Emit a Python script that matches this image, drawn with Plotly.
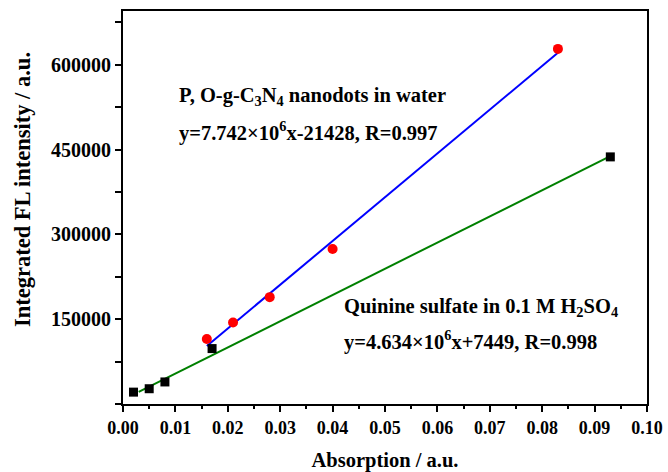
import plotly.graph_objects as go

# Data
pog_x = [0.016, 0.021, 0.028, 0.040, 0.083]
pog_y = [115000, 144000, 189000, 274000, 628000]

qs_x = [0.002, 0.005, 0.008, 0.017, 0.093]
qs_y = [21000, 27000, 39000, 98000, 437000]

# Fitted-line endpoints (as drawn)
pog_fit_x = [0.016, 0.083]
pog_fit_y = [102444, 621158]
qs_fit_x = [0.003, 0.093]
qs_fit_y = [21351, 438411]

x_ticks = [0.00, 0.01, 0.02, 0.03, 0.04, 0.05, 0.06, 0.07, 0.08, 0.09, 0.10]
x_ticklabels = ["0.00", "0.01", "0.02", "0.03", "0.04", "0.05", "0.06", "0.07", "0.08", "0.09", "0.10"]
y_ticks = [150000, 300000, 450000, 600000]
y_ticklabels = ["150000", "300000", "450000", "600000"]

FONT = "Liberation Serif"

fig = go.Figure()
fig.add_trace(go.Scatter(x=pog_fit_x, y=pog_fit_y, mode="lines",
                         line=dict(color="#0000ff", width=2), showlegend=False))
fig.add_trace(go.Scatter(x=qs_fit_x, y=qs_fit_y, mode="lines",
                         line=dict(color="#008000", width=2), showlegend=False))
fig.add_trace(go.Scatter(x=pog_x, y=pog_y, mode="markers",
                         marker=dict(color="#ff0000", size=10, symbol="circle"), showlegend=False))
fig.add_trace(go.Scatter(x=qs_x, y=qs_y, mode="markers",
                         marker=dict(color="#000000", size=9, symbol="square"), showlegend=False))

ann_font = dict(family=FONT, size=20.5, color="black")
ann_specs = [
    (177, 96, "<b>P, O-g-C<sub>3</sub>N<sub>4</sub> nanodots in water</b>"),
    (177, 131, "<b>y=7.742×10<sup>6</sup>x-21428, R=0.997</b>"),
    (342, 307, "<b>Quinine sulfate in 0.1 M H<sub>2</sub>SO<sub>4</sub></b>"),
    (342, 340, "<b>y=4.634×10<sup>6</sup>x+7449, R=0.998</b>"),
]

L, R, T, B = 123, 21, 11, 68
W, H = 668, 472
pw, ph = W - L - R, H - T - B
for px, py, txt in ann_specs:
    fig.add_annotation(x=(px - L) / pw, y=1 - (py - T) / ph, xref="paper", yref="paper",
                       text=txt, showarrow=False, xanchor="left", yanchor="middle", font=ann_font)

# y-axis title (placed slightly above the plot centre, as in the reference)
fig.add_annotation(x=(22 - L) / pw, y=1 - (190 - T) / ph, xref="paper", yref="paper",
                   text="<b>Integrated FL intensity / a.u.</b>", textangle=-90, showarrow=False,
                   xanchor="center", yanchor="middle", font=dict(family=FONT, size=22.5, color="black"))

fig.update_layout(
    width=W, height=H,
    margin=dict(l=L, r=R, t=T, b=B, autoexpand=False),
    paper_bgcolor="white", plot_bgcolor="white",
    font=dict(family=FONT, color="black", size=18),
    xaxis=dict(range=[0, 0.1], tickvals=x_ticks, ticktext=["<b>%s</b>" % t for t in x_ticklabels],
               showgrid=False, zeroline=False, automargin=False,
               showline=True, linecolor="black", linewidth=2, mirror=True,
               ticks="outside", ticklen=6, tickwidth=2, tickcolor="black",
               minor=dict(ticks="outside", ticklen=3, tickwidth=2, tickcolor="black", dtick=0.005, showgrid=False),
               tickfont=dict(family=FONT, size=18),
               title=dict(text="<b>Absorption / a.u.</b>", font=dict(family=FONT, size=20.5), standoff=18)),
    yaxis=dict(range=[0, 695000], tickvals=y_ticks, ticktext=["<b>%s</b>" % t for t in y_ticklabels],
               showgrid=False, zeroline=False, automargin=False,
               showline=True, linecolor="black", linewidth=2, mirror=True,
               ticks="outside", ticklen=6, tickwidth=2, tickcolor="black",
               minor=dict(ticks="outside", ticklen=6, tickwidth=2, tickcolor="black", dtick=75000, showgrid=False),
               tickfont=dict(family=FONT, size=20)),
)

fig.write_html("out.html")
